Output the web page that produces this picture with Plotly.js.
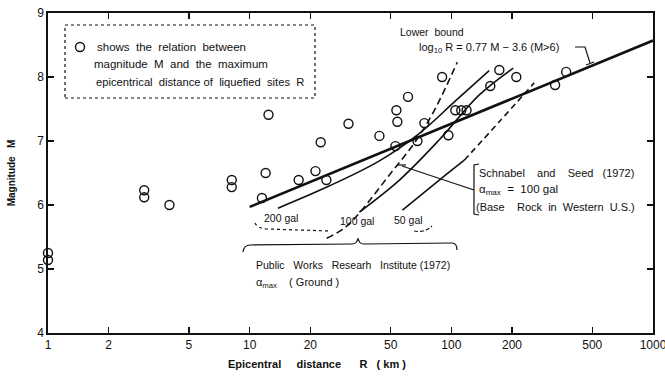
<!DOCTYPE html>
<html>
<head>
<meta charset="utf-8">
<script src="https://cdn.plot.ly/plotly-3.0.1.min.js"></script>
<style>html,body{margin:0;padding:0;background:#fff;}#chart{width:665px;height:379px;}</style>
</head>
<body>
<div id="chart"></div>
<script>
// ---- data ----
var distR = [1, 1, 3, 3, 4, 8.15, 8.15, 11.5, 12, 12.4, 17.5, 21.2, 22.5, 24, 30.9, 44, 52.8, 53.4, 54, 61, 67.9, 73.5, 90, 96.7, 104.7, 112, 119, 156, 173, 210, 327, 371];
var magM  = [5.25, 5.14, 6.23, 6.12, 6.0, 6.39, 6.28, 6.11, 6.5, 7.41, 6.39, 6.53, 6.98, 6.39, 7.27, 7.08, 6.92, 7.48, 7.3, 7.69, 7.0, 7.28, 8.0, 7.09, 7.48, 7.48, 7.48, 7.86, 8.11, 8.0, 7.875, 8.08];

var lowerR = [10, 1000];
var lowerM = [5.97, 8.57];

var gal200R = [13.8, 24.9, 44.0, 69.5, 103.5, 154];
var gal200M = [5.95, 6.30, 6.69, 7.12, 7.61, 8.10];

var gal100R = [35.0, 55.3, 87.2, 137.6, 202.8];
var gal100M = [5.89, 6.39, 7.02, 7.72, 8.14];

var gal50R = [57.2, 87.2, 116];
var gal50M = [5.92, 6.39, 6.70];
var gal50dashR = [116, 172.8, 257.7];
var gal50dashM = [6.70, 7.30, 7.91];

var ssR = [24.1, 29.5, 35.0, 49.3, 65.6, 82.4, 107];
var ssM = [5.48, 5.64, 5.875, 6.47, 6.97, 7.48, 8.23];

var xTicks = [1, 2, 5, 10, 20, 50, 100, 200, 500, 1000];
var xTickText = ['1', '2', '5', '10', '20', '50', '100', '200', '500', '1000'];
var yTicks = [4, 5, 6, 7, 8, 9];

// ---- layout helpers (pixel -> paper) ----
var L = 48, T = 13, W = 605, H = 320;
function px(x) { return (x - L) / W; }
function py(y) { return (T + H - y) / H; }
function path(pts) {
  return pts.map(function (p) {
    if (typeof p === 'string') return p;
    return px(p[0]).toFixed(4) + ',' + py(p[1]).toFixed(4);
  }).join(' ');
}

var FONT = 'Liberation Sans, Arial, sans-serif';
var black = '#111';
var NB = '\u00a0';
function sp(n) { var s = ''; for (var i = 0; i < n; i++) s += NB; return s; }

var traces = [
  {x: distR, y: magM, type: 'scatter', mode: 'markers',
   marker: {symbol: 'circle-open', size: 9, color: black, line: {width: 1.4, color: black}},
   showlegend: false, cliponaxis: false},
  {x: lowerR, y: lowerM, type: 'scatter', mode: 'lines', line: {color: black, width: 2.6}, showlegend: false},
  {x: gal200R, y: gal200M, type: 'scatter', mode: 'lines', line: {color: black, width: 1.6, shape: 'spline'}, showlegend: false},
  {x: gal100R, y: gal100M, type: 'scatter', mode: 'lines', line: {color: black, width: 1.6, shape: 'spline'}, showlegend: false},
  {x: gal50R, y: gal50M, type: 'scatter', mode: 'lines', line: {color: black, width: 1.6, shape: 'spline'}, showlegend: false},
  {x: gal50dashR, y: gal50dashM, type: 'scatter', mode: 'lines', line: {color: black, width: 1.6, dash: '6px,4px', shape: 'spline'}, showlegend: false},
  {x: ssR, y: ssM, type: 'scatter', mode: 'lines', line: {color: black, width: 1.6, dash: '7px,4px', shape: 'spline'}, showlegend: false}
];

function ann(text, x, y, xa, size, extra) {
  var a = {text: text, xref: 'paper', yref: 'paper', x: px(x), y: py(y), xanchor: xa || 'left', yanchor: 'middle',
           showarrow: false, font: {family: FONT, size: size || 11, color: black}};
  if (extra) for (var k in extra) a[k] = extra[k];
  return a;
}

var annotations = [
  ann('shows  the  relation  between', 95, 47, 'left', 11.5),
  ann('magnitude  M  and  the  maximum', 92, 64, 'left', 11.5),
  ann('epicentrical  distance of  liquefied  sites  R', 94, 82, 'left', 11.2),
  ann('Lower  bound', 398, 32, 'left', 10.5),
  ann('log<sub>10</sub> R = 0.77 M − 3.6 (M>6)', 417, 48, 'left', 11),
  ann('200 gal', 262, 218, 'left', 10.5),
  ann('100 gal', 338, 221, 'left', 10.5),
  ann('50 gal', 392, 220, 'left', 10.5),
  ann('Public   Works   Researh   Institute (1972)', 254, 265, 'left', 10.5),
  ann('α<sub>max</sub>    ( Ground )', 254, 283, 'left', 11),
  ann('Schnabel    and    Seed   (1972)', 477, 173, 'left', 11),
  ann('α<sub>max</sub>  =  100 gal', 477, 190, 'left', 11.5),
  ann('(Base    Rock  in  Western  U.S.)', 474, 207, 'left', 11),
  ann('Epicentral' + sp(5) + 'distance' + sp(6) + 'R' + sp(3) + '( km )', 317, 364, 'center', 11,
      {font: {family: FONT, size: 11, color: black, weight: 'bold'}})
];

var shapes = [
  // legend box
  {type: 'rect', xref: 'paper', yref: 'paper', x0: px(65), x1: px(315), y0: py(98), y1: py(25),
   line: {color: black, width: 1.2, dash: 'dot'}, fillcolor: 'rgba(0,0,0,0)'},
  // legend symbol (open circle)
  {type: 'circle', xref: 'paper', yref: 'paper', x0: px(75.5), x1: px(84.5), y0: py(51.5), y1: py(42.5),
   line: {color: black, width: 1.4}, fillcolor: 'rgba(0,0,0,0)'},
  // leader to lower-bound line
  {type: 'path', xref: 'paper', yref: 'paper', path: 'M' + path([[575, 47], 'L', [585, 47], 'L', [590, 63]]),
   line: {color: black, width: 1.2}},
  {type: 'path', xref: 'paper', yref: 'paper', path: 'M' + path([[586, 65], 'L', [594, 62]]),
   line: {color: black, width: 1.2}},
  // PWRI brace
  {type: 'path', xref: 'paper', yref: 'paper',
   path: 'M' + path([[243, 252], 'Q', [244, 245], [250, 245], 'L', [352, 244], 'Q', [357, 244], [358, 238], 'Q', [359, 244], [364, 244], 'L', [452, 243], 'Q', [457, 243], [457, 250]]),
   line: {color: black, width: 1.2}},
  // dotted underline of 200 gal
  {type: 'path', xref: 'paper', yref: 'paper',
   path: 'M' + path([[255, 223], 'Q', [258, 229], [268, 229], 'L', [330, 231]]),
   line: {color: black, width: 1.2, dash: 'dot'}},
  // dashed curl under 50 gal
  {type: 'path', xref: 'paper', yref: 'paper',
   path: 'M' + path([[414, 231], 'Q', [425, 233], [432, 226]]),
   line: {color: black, width: 1.1, dash: '4px,2px'}},
  // Schnabel leader and bracket
  {type: 'path', xref: 'paper', yref: 'paper', path: 'M' + path([[402, 166], 'L', [474, 190]]),
   line: {color: black, width: 1.2}},
  {type: 'path', xref: 'paper', yref: 'paper', path: 'M' + path([[397, 165], 'L', [406, 165]]),
   line: {color: black, width: 1.2}},
  {type: 'path', xref: 'paper', yref: 'paper', path: 'M' + path([[479, 164], 'L', [474, 165], 'L', [474, 214], 'L', [479, 215]]),
   line: {color: black, width: 1.2}}
];

var layout = {
  width: 665, height: 379,
  margin: {l: L, r: 665 - L - W, t: T, b: 379 - T - H},
  paper_bgcolor: '#fff', plot_bgcolor: '#fff',
  showlegend: false,
  font: {family: FONT, size: 12, color: black},
  xaxis: {
    type: 'log', range: [0, 3], tickvals: xTicks, ticktext: xTickText,
    ticks: 'inside', ticklen: 6, tickwidth: 1.3, tickcolor: black,
    showline: true, linewidth: 1.6, linecolor: black, mirror: 'ticks',
    showgrid: false, zeroline: false, ticklabeloverflow: 'allow',
    tickfont: {family: FONT, size: 12, color: black}
  },
  yaxis: {
    range: [4, 9], tickvals: yTicks,
    ticks: 'inside', ticklen: 6, tickwidth: 1.3, tickcolor: black,
    showline: true, linewidth: 1.6, linecolor: black, mirror: 'ticks',
    showgrid: false, zeroline: false,
    tickfont: {family: FONT, size: 12, color: black},
    title: {text: 'Magnitude' + sp(3) + 'M', font: {family: FONT, size: 10, color: black, weight: 'bold'}, standoff: 20}
  },
  annotations: annotations,
  shapes: shapes
};

Plotly.newPlot('chart', traces, layout, {staticPlot: true, displayModeBar: false});
</script>
</body>
</html>
